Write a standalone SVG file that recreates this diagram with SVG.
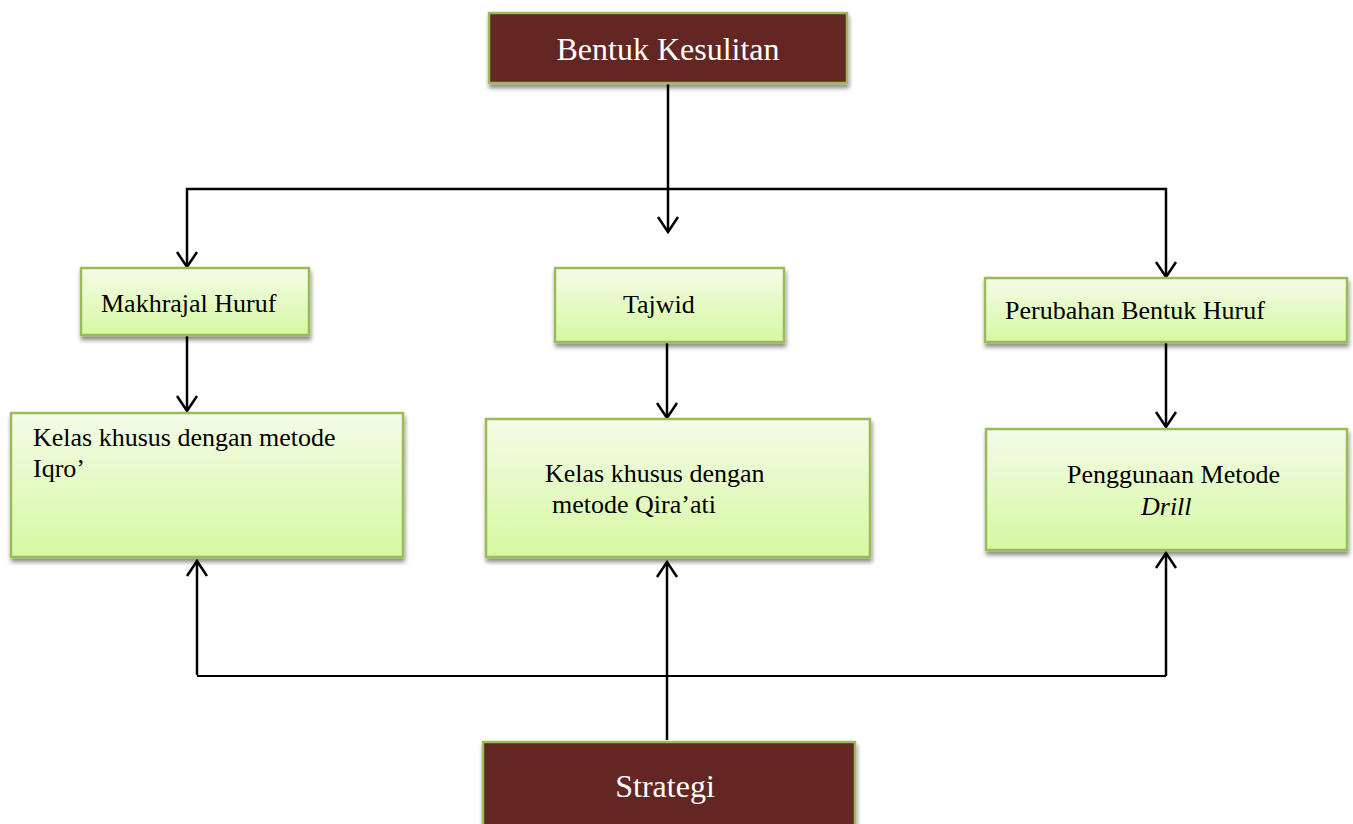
<svg xmlns="http://www.w3.org/2000/svg" width="1353" height="824" viewBox="0 0 1353 824">
<style>
.dark{fill:#632523;stroke:#9bbb59;stroke-width:2.5}
.green{fill:url(#g);stroke:#9bbb59;stroke-width:2.5}
.t{font-family:"Liberation Serif","Times New Roman",serif;font-size:26px;fill:#000}
.tw{font-family:"Liberation Serif","Times New Roman",serif;font-size:32px;fill:#fff;text-anchor:middle}
.c{fill:none;stroke:#000;stroke-width:2.5}
.h{fill:none;stroke:#000;stroke-width:2}
</style>
<defs>
<linearGradient id="g" x1="0" y1="0" x2="0" y2="1">
<stop offset="0" stop-color="#f4fce8"/>
<stop offset="1" stop-color="#d6f8a2"/>
</linearGradient>
<filter id="sh" x="-5%" y="-10%" width="110%" height="130%">
<feGaussianBlur in="SourceAlpha" stdDeviation="2"/>
<feOffset dx="1" dy="4" result="b"/>
<feComponentTransfer><feFuncA type="linear" slope="0.45"/></feComponentTransfer>
<feMerge><feMergeNode/><feMergeNode in="SourceGraphic"/></feMerge>
</filter>
<marker id="v" markerUnits="userSpaceOnUse" markerWidth="24" markerHeight="24" viewBox="0 0 24 24" refX="17" refY="12" orient="auto">
<path d="M2,2 L17,12 L2,22" fill="none" stroke="#000" stroke-width="2.5"/>
</marker>
</defs>
<g id="connectors">
<path class="c" d="M668,83 V232" marker-end="url(#v)"/>
<path class="c" d="M668,189 H187 V267" marker-end="url(#v)"/>
<path class="c" d="M668,189 H1166 V277" marker-end="url(#v)"/>
<path class="c" d="M187,335 V411" marker-end="url(#v)"/>
<path class="c" d="M667,342 V418" marker-end="url(#v)"/>
<path class="c" d="M1166,342 V427" marker-end="url(#v)"/>
<path class="h" d="M197,676 H1166"/>
<path class="c" d="M197,675 V561" marker-end="url(#v)"/>
<path class="c" d="M667,740 V562" marker-end="url(#v)"/>
<path class="c" d="M1166,676 V553" marker-end="url(#v)"/>
</g>
<g id="bentuk-kesulitan">
<rect class="dark" x="489" y="13" width="358" height="70" filter="url(#sh)"/>
<text class="tw" x="668" y="60">Bentuk Kesulitan</text>
</g>
<g id="makhrajal-huruf">
<rect class="green" x="81" y="268" width="228" height="67" filter="url(#sh)"/>
<text class="t" x="101" y="312">Makhrajal Huruf</text>
</g>
<g id="tajwid">
<rect class="green" x="555" y="268" width="229" height="74" filter="url(#sh)"/>
<text class="t" x="623" y="313">Tajwid</text>
</g>
<g id="perubahan-bentuk-huruf">
<rect class="green" x="985" y="278" width="362" height="64" filter="url(#sh)"/>
<text class="t" x="1005" y="319">Perubahan Bentuk Huruf</text>
</g>
<g id="kelas-iqro">
<rect class="green" x="11" y="413" width="392" height="144" filter="url(#sh)"/>
<text class="t" x="33" y="446">Kelas khusus dengan metode</text>
<text class="t" x="33" y="477">Iqro’</text>
</g>
<g id="kelas-qiraati">
<rect class="green" x="486" y="419" width="384" height="138" filter="url(#sh)"/>
<text class="t" x="545" y="482">Kelas khusus dengan</text>
<text class="t" x="552" y="513">metode Qira’ati</text>
</g>
<g id="metode-drill">
<rect class="green" x="986" y="429" width="361" height="121" filter="url(#sh)"/>
<text class="t" x="1067" y="483">Penggunaan Metode</text>
<text class="t" x="1141" y="515" font-style="italic">Drill</text>
</g>
<g id="strategi">
<rect class="dark" x="483" y="742" width="372" height="100" filter="url(#sh)"/>
<text class="tw" x="665" y="797">Strategi</text>
</g>
</svg>
